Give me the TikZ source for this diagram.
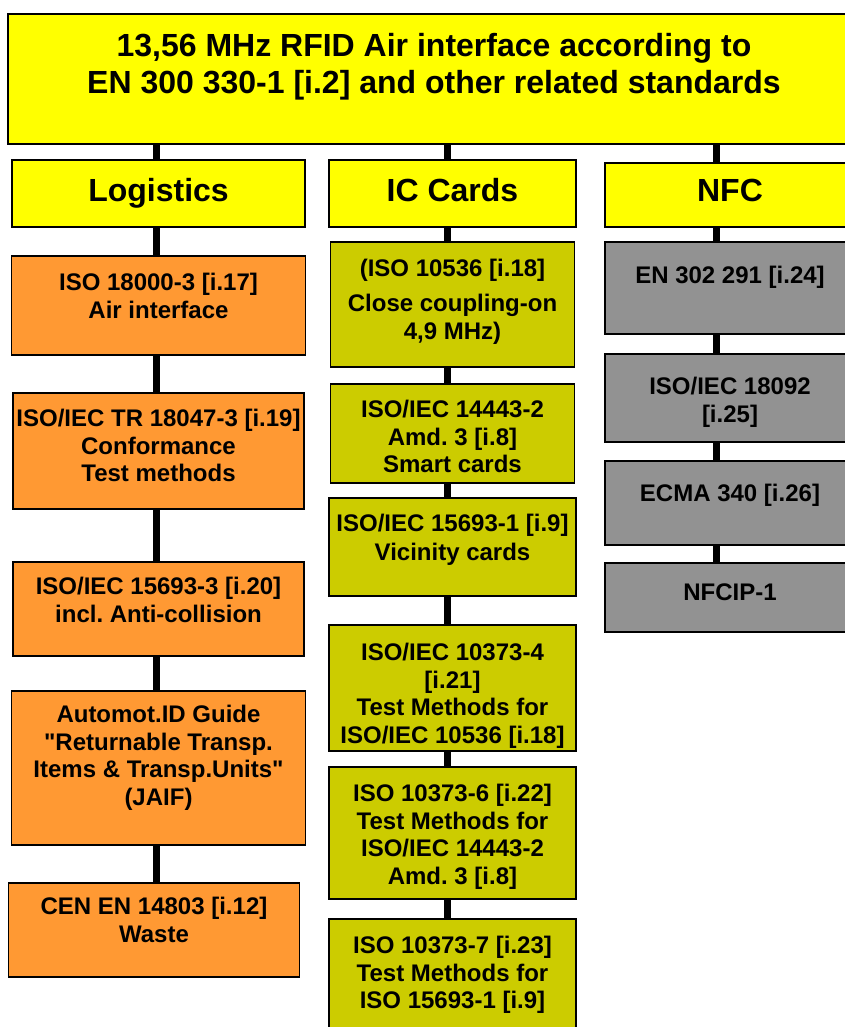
\documentclass[tikz,border=0pt]{standalone}
\usepackage{fontspec}
\setmainfont{Liberation Sans}
\usetikzlibrary{positioning}
\frenchspacing

\definecolor{hdyellow}{RGB}{255,255,0}
\definecolor{logorange}{RGB}{255,153,51}
\definecolor{icolive}{RGB}{204,204,0}
\definecolor{nfcgray}{RGB}{146,146,146}

% width, height, first baseline, text
\newcommand{\boxlines}[4]{\parbox[c][#2pt][t]{#1pt}{\centering\rule{0pt}{#3pt}#4}}

\tikzstyle{block} = [draw=black, line width=1.5pt, rectangle, inner sep=0pt, outer sep=0pt]
\tikzstyle{head} = [block, fill=hdyellow, font=\fontsize{32}{37}\selectfont\bfseries]
\tikzstyle{logbox} = [block, fill=logorange, font=\fontsize{24}{27.5}\selectfont\bfseries]
\tikzstyle{icbox} = [block, fill=icolive, font=\fontsize{24}{27.5}\selectfont\bfseries]
\tikzstyle{nfcbox} = [block, fill=nfcgray, font=\fontsize{24}{27.5}\selectfont\bfseries]
\tikzstyle{link} = [draw=black, line width=7pt]

\begin{document}
\begin{tikzpicture}[x=1pt, y=-1pt]
    \useasboundingbox (0,0) rectangle (845,1027);
    \clip (0,0) rectangle (845,1027);

    \node [head, anchor=north west] (title) at (8,14) {\boxlines{852}{130}{42.5}{13,56 MHz RFID Air interface according to\\EN 300 330-1 [i.2] and other related standards}};
    \node [head, anchor=north west] (lg) at (12,160) {\boxlines{293}{67}{41.5}{Logistics}};
    \node [head, anchor=north west] (ic) at (329,160) {\boxlines{247}{67}{41.5}{IC Cards}};
    \node [head, anchor=north west] (nf) at (605,163) {\boxlines{250}{64}{38.5}{NFC}};

    % logistics
    \node [logbox, below=29pt of lg] (lg1) {\boxlines{294}{99}{34.5}{ISO 18000-3 [i.17]\\Air interface}};
    \node [logbox, below=38pt of lg1] (lg2) {\boxlines{291}{116}{33.5}{ISO/IEC TR 18047-3 [i.19]\\Conformance\\Test methods}};
    \node [logbox, below=53pt of lg2] (lg3) {\boxlines{291}{94}{32.5}{ISO/IEC 15693-3 [i.20]\\incl. Anti-collision}};
    \node [logbox, below=35pt of lg3] (lg4) {\boxlines{294}{154}{31.5}{Automot.ID Guide\\\textquotedbl Returnable Transp.\\Items \& Transp.Units\textquotedbl\\(JAIF)}};
    \node [logbox, below=38pt of lg4, xshift=-4.5pt] (lg5) {\boxlines{291}{94}{31.5}{CEN EN 14803 [i.12]\\Waste}};

    % ic cards
    \node [icbox, below=15pt of ic] (ic1) {\boxlines{244}{125}{34.5}{(ISO 10536 [i.18]\\[7.5pt]Close coupling-on\\4,9 MHz)}};
    \node [icbox, below=17pt of ic1] (ic2) {\boxlines{244}{99}{33.5}{ISO/IEC 14443-2\\Amd. 3 [i.8]\\Smart cards}};
    \node [icbox, below=15pt of ic2] (ic3) {\boxlines{247}{98}{33.5}{ISO/IEC 15693-1 [i.9]\\[1.5pt]Vicinity cards}};
    \node [icbox, below=29pt of ic3] (ic4) {\boxlines{247}{126}{35.5}{ISO/IEC 10373-4\\{}[i.21]\\Test Methods for\\ISO/IEC 10536 [i.18]}};
    \node [icbox, below=16pt of ic4] (ic5) {\boxlines{247}{132}{34.5}{ISO 10373-6 [i.22]\\Test Methods for\\ISO/IEC 14443-2\\Amd. 3 [i.8]}};
    \node [icbox, below=20pt of ic5] (ic6) {\boxlines{247}{116}{34.5}{ISO 10373-7 [i.23]\\Test Methods for\\ISO 15693-1 [i.9]}};

    % nfc
    \node [nfcbox, below=15pt of nf] (nf1) {\boxlines{250}{92}{41.5}{EN 302 291 [i.24]}};
    \node [nfcbox, below=20pt of nf1] (nf2) {\boxlines{250}{88}{40.5}{ISO/IEC 18092\\{}[i.25]}};
    \node [nfcbox, below=19pt of nf2] (nf3) {\boxlines{250}{84}{40.5}{ECMA 340 [i.26]}};
    \node [nfcbox, below=18pt of nf3] (nf4) {\boxlines{250}{69}{37.5}{NFCIP-1}};

    \coordinate (lgx) at (156,0);
    \coordinate (icx) at (447,0);
    \coordinate (nfx) at (716,0);

    \draw [link] (title.south -| lgx) -- (lg.north -| lgx);
    \draw [link] (title.south -| icx) -- (ic.north -| icx);
    \draw [link] (title.south -| nfx) -- (nf.north -| nfx);

    \draw [link] (lg.south -| lgx) -- (lg1.north -| lgx);
    \draw [link] (lg1.south -| lgx) -- (lg2.north -| lgx);
    \draw [link] (lg2.south -| lgx) -- (lg3.north -| lgx);
    \draw [link] (lg3.south -| lgx) -- (lg4.north -| lgx);
    \draw [link] (lg4.south -| lgx) -- (lg5.north -| lgx);

    \draw [link] (ic.south -| icx) -- (ic1.north -| icx);
    \draw [link] (ic1.south -| icx) -- (ic2.north -| icx);
    \draw [link] (ic2.south -| icx) -- (ic3.north -| icx);
    \draw [link] (ic3.south -| icx) -- (ic4.north -| icx);
    \draw [link] (ic4.south -| icx) -- (ic5.north -| icx);
    \draw [link] (ic5.south -| icx) -- (ic6.north -| icx);

    \draw [link] (nf.south -| nfx) -- (nf1.north -| nfx);
    \draw [link] (nf1.south -| nfx) -- (nf2.north -| nfx);
    \draw [link] (nf2.south -| nfx) -- (nf3.north -| nfx);
    \draw [link] (nf3.south -| nfx) -- (nf4.north -| nfx);
\end{tikzpicture}
\end{document}
